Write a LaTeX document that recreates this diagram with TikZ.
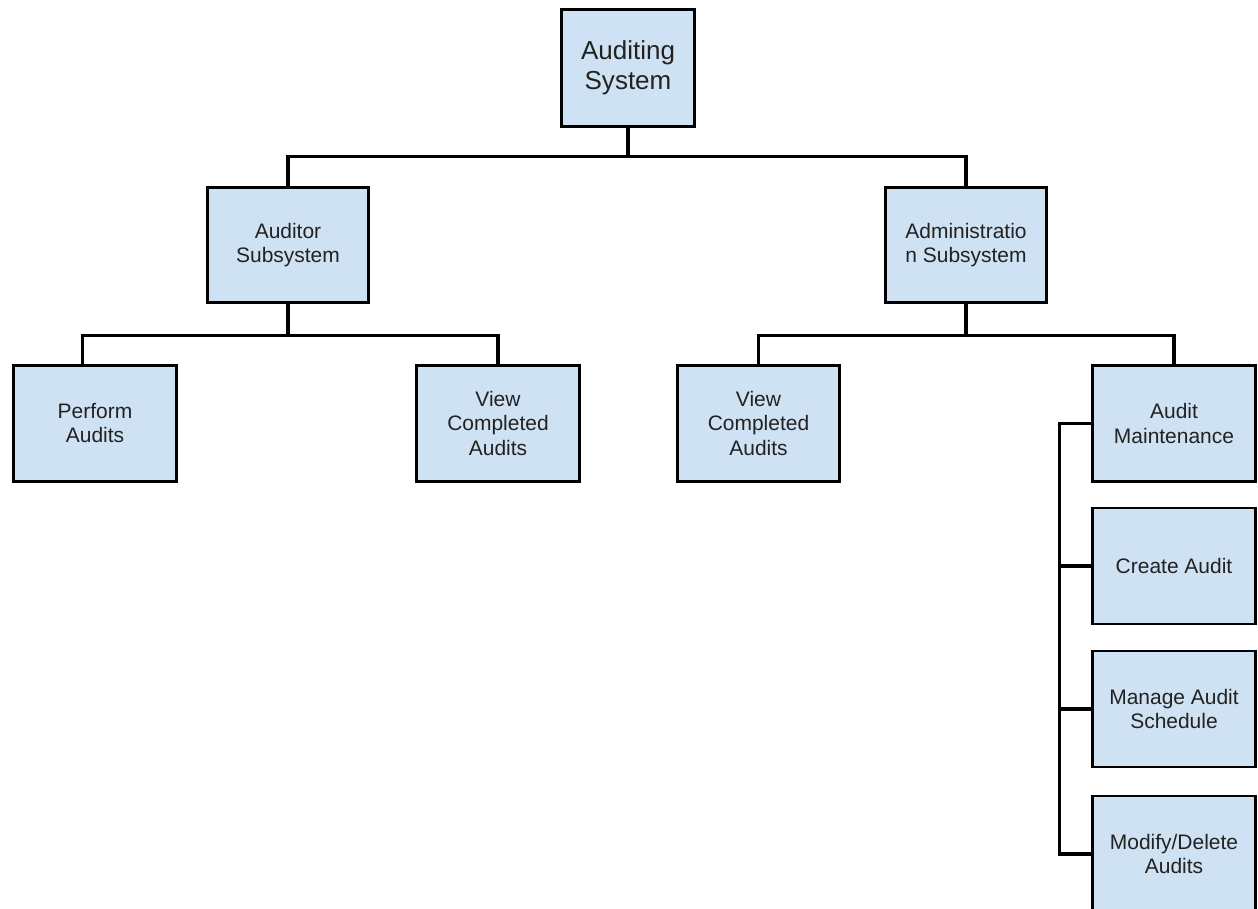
\documentclass[tikz,border=0pt]{standalone}
\usepackage{fontspec}
\setmainfont{Liberation Sans}
\usepackage{tikz}
\definecolor{boxblue}{HTML}{CFE2F3}
\definecolor{ink}{HTML}{222222}
\tikzstyle{system} = [draw, line width=2.5pt, rectangle, fill=boxblue, text=ink, text centered, align=center, minimum width=113.5pt, minimum height=100pt, font=\fontsize{22.2}{25.6}\selectfont]
\tikzstyle{subsystem} = [draw, line width=2.5pt, rectangle, fill=boxblue, text=ink, text centered, align=center, minimum width=138pt, minimum height=98.5pt, font=\fontsize{17.9}{20.5}\selectfont]
\tikzstyle{feature} = [subsystem, minimum width=139pt, minimum height=99pt]
\tikzstyle{link} = [draw, line width=2.6pt]

\begin{document}
\begin{tikzpicture}[x=0.03cm, y=0.03cm]
    \clip (0,0) rectangle (1258,-909);
    \draw (628,-68)    node[system] (A) {Auditing \\ System};
    \draw (288,-245)   node[subsystem] (B) {Auditor \\ Subsystem};
    \draw (966,-245)   node[subsystem] (C) {Administratio \\ n Subsystem};
    \draw (95,-423.5)  node[feature] (D) {Perform \\ Audits};
    \draw (498,-423.5) node[feature] (E) {View \\ Completed \\ Audits};
    \draw (758.5,-423.5) node[feature] (F) {View \\ Completed \\ Audits};
    \draw (1174,-423.5) node[feature] (G) {Audit \\ Maintenance};
    \draw (1174,-566)  node[feature] (H) {Create Audit};
    \draw (1174,-709)  node[feature] (I) {Manage Audit \\ Schedule};
    \draw (1174,-854) node[feature] (J) {Modify/Delete \\ Audits};
    \draw[link] (A.south) -- ++(0,-28) -| (B.north);
    \draw[link] (A.south) -- ++(0,-28) -| (C.north);
    \draw[link] (B.south) -- ++(0,-31) -| ([xshift=-11pt]D.north);
    \draw[link] (B.south) -- ++(0,-31) -| (E.north);
    \draw[link] (C.south) -- ++(0,-31) -| (F.north);
    \draw[link] (C.south) -- ++(0,-31) -| (G.north);
    \draw[link] (G.west) -- ++(-32,0) coordinate (spine) |- (J.west);
    \draw[link] (H.west) -- (spine |- H.west);
    \draw[link] (I.west) -- (spine |- I.west);
\end{tikzpicture}
\end{document}
